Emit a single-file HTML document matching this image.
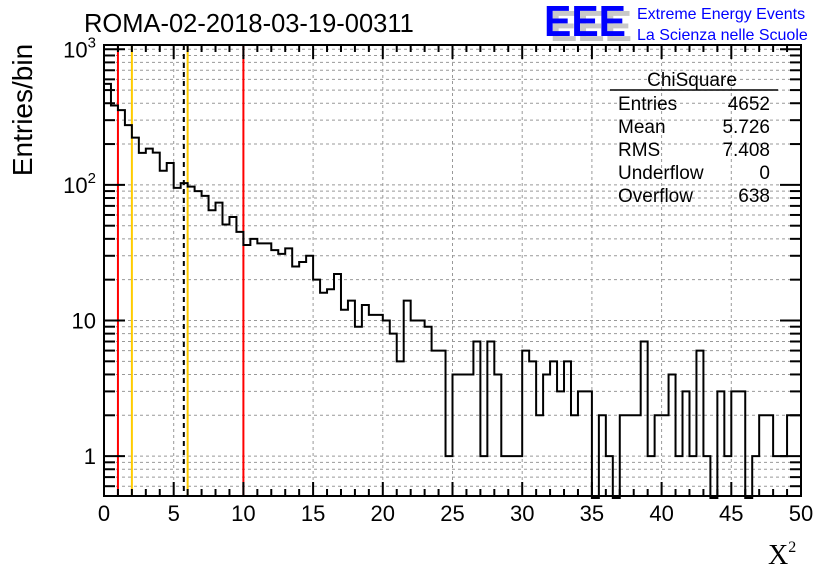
<!DOCTYPE html>
<html><head><meta charset="utf-8"><style>
body{margin:0;background:#fff;}
svg{display:block;font-family:"Liberation Sans",sans-serif;}
</style></head><body>
<svg id="c" width="836" height="572" viewBox="0 0 836 572">
<rect width="836" height="572" fill="#fff"/>
<text x="84" y="32" font-size="25.5">ROMA-02-2018-03-19-00311</text>
<g>
<text x="550" y="41" font-size="44" font-weight="bold" fill="#c8c8c8" textLength="82" lengthAdjust="spacingAndGlyphs">EEE</text>
<text x="544" y="36" font-size="44" font-weight="bold" fill="#0000ff" textLength="82" lengthAdjust="spacingAndGlyphs">EEE</text>
<text x="637" y="19" font-size="16" fill="#0000ff">Extreme Energy Events</text>
<text x="637" y="40" font-size="16" fill="#0000ff">La Scienza nelle Scuole</text>
</g>
<g id="grid"></g>
<g id="marks"></g>
<g id="axes"></g>
<g font-size="19">
<text x="692" y="86" text-anchor="middle">ChiSquare</text>
<line x1="610" y1="90" x2="778" y2="90" stroke="#000" stroke-width="1.5"/>
<text x="618" y="110">Entries</text><text x="770" y="110" text-anchor="end">4652</text>
<text x="618" y="133">Mean</text><text x="770" y="133" text-anchor="end">5.726</text>
<text x="618" y="156">RMS</text><text x="770" y="156" text-anchor="end">7.408</text>
<text x="618" y="179">Underflow</text><text x="770" y="179" text-anchor="end">0</text>
<text x="618" y="202">Overflow</text><text x="770" y="202" text-anchor="end">638</text>
</g>
<text transform="translate(32,110) rotate(-90)" text-anchor="middle" font-size="28">Entries/bin</text>
<text x="768" y="564" font-size="28" font-family="Liberation Serif,serif">X<tspan font-size="16" dy="-12">2</tspan></text>
</svg>
<script>
const counts=[556,385,356,276,223,172,185,173,127,145,95,103,97,90,83,65,74,51,58,45,36,40,37,37,33,31,34,25,27,30,20,16,17,22,12,14,9,13,11,11,10,8,5,14,10,10,9,6,6,1,4,4,4,7,1,7,4,1,1,1,6,5,2,4,5,3,5,2,3,3,0,2,1,0,2,2,2,7,1,2,2,4,1,3,1,6,1,0,3,1,3,3,0,1,2,2,1,1,2,2];
const binWidth=0.5;
const xTicks=[0,5,10,15,20,25,30,35,40,45,50];
const yDecades=[1,10,100,1000];
const yLabels=["1","10","10²","10³"];
const redLines=[1,10];
const yellowLines=[2,6];
const meanLine=[5.726];
const L=104,R=801,T=45,B=496,XMIN=0,XMAX=50,YMIN=0.508,YMAX=1075;
const sx=v=>L+(v-XMIN)/(XMAX-XMIN)*(R-L);
const sy=v=>v<=0?B+2:Math.min(B,B-(Math.log10(v)-Math.log10(YMIN))/(Math.log10(YMAX)-Math.log10(YMIN))*(B-T));
const NS="http://www.w3.org/2000/svg";
function mk(tag,parent,attrs){const e=document.createElementNS(NS,tag);for(const k in attrs)e.setAttribute(k,attrs[k]);parent.appendChild(e);return e;}
const grid=document.getElementById('grid'),marks=document.getElementById('marks'),axes=document.getElementById('axes');
xTicks.forEach(t=>{if(t>XMIN&&t<XMAX){const g=mk('line',grid,{x1:sx(t),x2:sx(t),y1:T,y2:B,stroke:'#999','stroke-dasharray':'3,3','stroke-width':1});

}});
yDecades.forEach(d=>{for(let m=1;m<=9;m++){const v=d*m;const y=sy(v);if(v>YMIN&&v<YMAX){const g=mk('line',grid,{x1:L,x2:R,y1:y,y2:y,stroke:'#999','stroke-dasharray':'3,3','stroke-width':1});

}}});
[0.6,0.7,0.8,0.9].forEach(v=>{const g=mk('line',grid,{x1:L,x2:R,y1:sy(v),y2:sy(v),stroke:'#999','stroke-dasharray':'3,3','stroke-width':1});

});
redLines.forEach(v=>{const l=mk('line',marks,{x1:sx(v),x2:sx(v),y1:T,y2:B,stroke:'#ff0000','stroke-width':2});

});
yellowLines.forEach(v=>{const l=mk('line',marks,{x1:sx(v),x2:sx(v),y1:T,y2:B,stroke:'#ffcc00','stroke-width':2});

});
meanLine.forEach(v=>{const l=mk('line',marks,{x1:sx(v),x2:sx(v),y1:T,y2:B,stroke:'#000','stroke-width':2,'stroke-dasharray':'5,4'});

});
let d='';
counts.forEach((c,i)=>{const x0=sx(i*binWidth),x1=sx((i+1)*binWidth),y=sy(c);d+=(i===0?'M'+x0+','+y:'L'+x0+','+y)+'L'+x1+','+y;});
const h=mk('path',marks,{d:d,fill:'none',stroke:'#000','stroke-width':2});


const f=mk('rect',axes,{x:L,y:T,width:R-L,height:B-T,fill:'none',stroke:'#000','stroke-width':2});


for(let v=XMIN;v<=XMAX;v+=1){const major=v%5===0;const len=major?14:7;
mk('line',axes,{x1:sx(v),x2:sx(v),y1:B,y2:B-len,stroke:'#000','stroke-width':2});
mk('line',axes,{x1:sx(v),x2:sx(v),y1:T,y2:T+len,stroke:'#000','stroke-width':2});}
xTicks.forEach(t=>{const tx=mk('text',axes,{x:sx(t),y:521,'text-anchor':'middle','font-size':22});tx.textContent=t;

});
const yt=[];[0.6,0.7,0.8,0.9].forEach(v=>yt.push([v,false]));
yDecades.forEach(dd=>{for(let m=1;m<=9;m++){const v=dd*m;if(v<YMAX)yt.push([v,m===1]);}});
yt.forEach(([v,maj])=>{const len=maj?21:11;const y=sy(v);
mk('line',axes,{x1:L,x2:L+len,y1:y,y2:y,stroke:'#000','stroke-width':2});
mk('line',axes,{x1:R,x2:R-len,y1:y,y2:y,stroke:'#000','stroke-width':2});});
yDecades.forEach((v,i)=>{const tx=mk('text',axes,{x:96,y:sy(v)+8,'text-anchor':'end','font-size':22});
if(i>=2){tx.textContent='10';const s=document.createElementNS(NS,'tspan');s.setAttribute('font-size','15');s.setAttribute('dy','-10');s.textContent=String(i);tx.appendChild(s);}else tx.textContent=yLabels[i];

});
</script>
</body></html>
